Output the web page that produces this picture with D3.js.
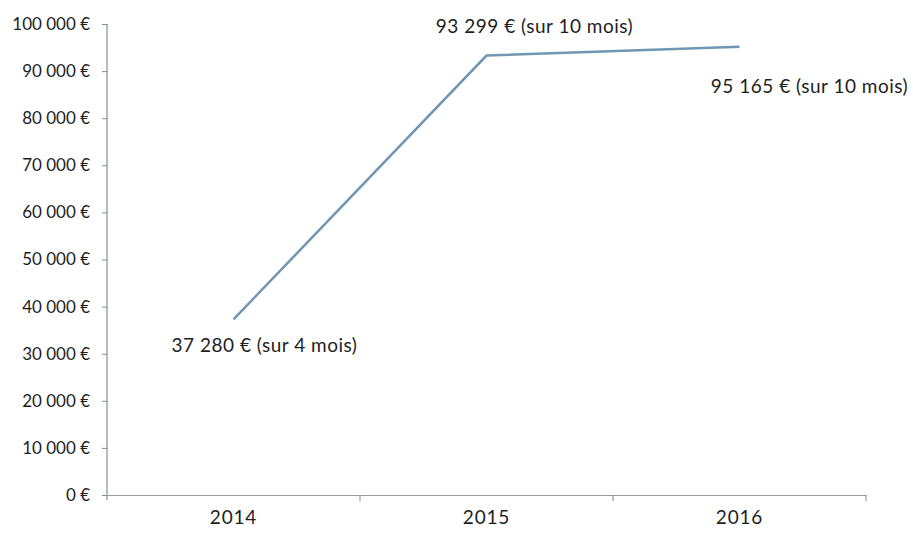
<!DOCTYPE html>
<html>
<head>
<script src='https://d3js.org/d3.v7.min.js'></script>
<style>
body {margin:0; background:#fff;}
text {font-family:Lato, 'Open Sans', sans-serif; fill:#1e1e1e;}
</style>
</head>
<body>
<svg width=913 height=533></svg>
<script>
var years = ['2014','2015','2016']
var ca = [37280, 93299, 95165]
var labels = ['37 280 € (sur 4 mois)', '93 299 € (sur 10 mois)', '95 165 € (sur 10 mois)']
var yTicks = [0,10000,20000,30000,40000,50000,60000,70000,80000,90000,100000]

var mLeft = 107, mRight = 866, mTop = 24, mBottom = 495

var svg = d3.select('svg')

var x = d3.scaleBand().domain(years).range([mLeft,mRight])
var y = d3.scaleLinear().domain([0,100000]).range([mBottom,mTop])

var fmt = function(d) {return d3.format(',')(d).replace(/,/g,' ') + ' €'}

// y axis
var ya = svg.append('g')
  .attr('transform','translate('+mLeft+',0)')
  .call(d3.axisLeft(y).tickValues(yTicks).tickFormat(fmt).tickSize(5).tickSizeOuter(0).tickPadding(12))
ya.selectAll('text').style('font-size','17px').attr('fill','#1e1e1e')
ya.selectAll('line,path').attr('stroke','#8a8f91')
ya.select('.domain').remove()
svg.append('line').attr('x1',mLeft).attr('x2',mLeft).attr('y1',y(100000)).attr('y2',y(0)+5).attr('stroke','#6f7a7c')

// x axis
var xa = svg.append('g')
  .attr('transform','translate(0,'+mBottom+')')
  .call(d3.axisBottom(x).tickSize(0).tickPadding(16))
xa.selectAll('text').style('font-size','19px').style('letter-spacing','0.8px').attr('fill','#1e1e1e')
xa.select('.domain').attr('stroke','#9a9d9d')
xa.selectAll('.bound')
  .data(years)
  .enter()
  .append('line')
    .attr('x1',function(d) {return x(d)+x.bandwidth();})
    .attr('x2',function(d) {return x(d)+x.bandwidth();})
    .attr('y1',0).attr('y2',6)
    .attr('stroke','#7f8585')

// line
var line = d3.line()
  .x(function(d,i) {return x(years[i])+x.bandwidth()/2;})
  .y(function(d) {return y(d);})
svg.append('path')
  .datum(ca)
  .attr('d',line)
  .attr('fill','none')
  .attr('stroke','#7196b4')
  .attr('stroke-width',2.5)

// data labels
var dx = [31, 48, 70]
var dy = [33, -23, 46]
svg.selectAll('.lbl')
  .data(ca)
  .enter()
  .append('text')
    .attr('text-anchor','middle')
    .attr('x',function(d,i) {return x(years[i])+x.bandwidth()/2+dx[i];})
    .attr('y',function(d,i) {return y(d)+dy[i];})
    .style('font-size','19px')
    .style('letter-spacing','0.5px')
    .text(function(d,i) {return labels[i];})
</script>
</body>
</html>
